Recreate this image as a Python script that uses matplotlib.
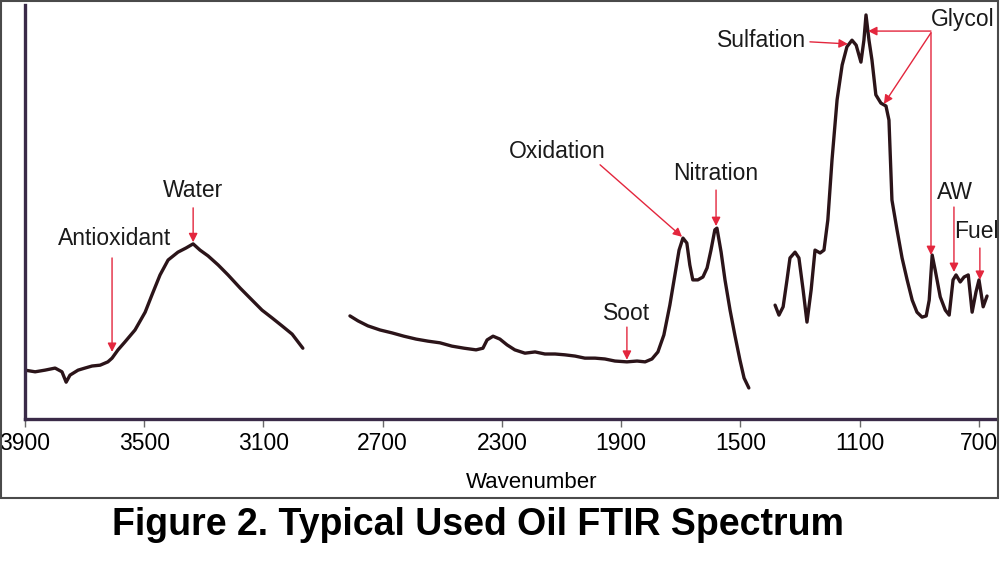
import matplotlib
matplotlib.use("Agg")
import matplotlib.pyplot as plt
from matplotlib.patches import Rectangle

# ---- data (wavenumber cm-1, absorbance) ----
wn_high = [3900, 3866, 3833, 3799, 3776, 3762, 3749, 3722, 3699, 3675, 3648, 3622, 3608,
           3588, 3565, 3531, 3497, 3474, 3447, 3420, 3387, 3360, 3336, 3313, 3286, 3252,
           3219, 3178, 3145, 3105, 3071, 3038, 3004, 2968]
abs_high = [0.118, 0.114, 0.118, 0.123, 0.114, 0.089, 0.106, 0.118, 0.123, 0.128, 0.130,
            0.138, 0.147, 0.167, 0.186, 0.215, 0.258, 0.300, 0.348, 0.384, 0.403, 0.413,
            0.423, 0.408, 0.394, 0.372, 0.348, 0.316, 0.292, 0.263, 0.244, 0.225, 0.205, 0.171]

wn_mid = [2810, 2783, 2750, 2709, 2669, 2629, 2588, 2548, 2508, 2468, 2427, 2387, 2364,
          2350, 2330, 2307, 2283, 2257, 2223, 2189, 2156, 2122, 2089, 2055, 2022, 1988,
          1955, 1921, 1881, 1847, 1820, 1797, 1777, 1757, 1737, 1720, 1706, 1693, 1680,
          1670, 1660, 1643, 1626, 1612, 1599, 1586, 1579, 1565, 1552, 1535, 1519, 1502,
          1488, 1472]
abs_mid = [0.249, 0.237, 0.225, 0.215, 0.208, 0.200, 0.193, 0.188, 0.184, 0.176, 0.171,
           0.167, 0.171, 0.191, 0.200, 0.193, 0.179, 0.167, 0.159, 0.162, 0.157, 0.157,
           0.155, 0.152, 0.147, 0.147, 0.145, 0.140, 0.138, 0.140, 0.138, 0.145, 0.162,
           0.203, 0.275, 0.348, 0.408, 0.437, 0.425, 0.372, 0.336, 0.336, 0.343, 0.365,
           0.408, 0.457, 0.461, 0.403, 0.336, 0.263, 0.203, 0.143, 0.099, 0.075]

wn_low = [1384, 1371, 1357, 1344, 1334, 1317, 1304, 1290, 1277, 1263, 1250, 1233, 1220,
          1207, 1193, 1176, 1159, 1143, 1126, 1112, 1096, 1086, 1079, 1069, 1059, 1046,
          1029, 1012, 1002, 992, 975, 958, 941, 924, 908, 891, 877, 867, 857, 847, 830,
          813, 800, 787, 777, 763, 750, 736, 723, 710, 700, 686, 673]
abs_low = [0.275, 0.251, 0.271, 0.336, 0.389, 0.403, 0.389, 0.312, 0.234, 0.312, 0.408,
           0.401, 0.408, 0.481, 0.626, 0.771, 0.855, 0.899, 0.915, 0.903, 0.862, 0.915,
           0.976, 0.915, 0.867, 0.783, 0.763, 0.756, 0.722, 0.529, 0.457, 0.389, 0.336,
           0.287, 0.258, 0.246, 0.249, 0.287, 0.396, 0.360, 0.295, 0.263, 0.251, 0.336,
           0.348, 0.331, 0.343, 0.348, 0.258, 0.307, 0.336, 0.271, 0.297]

tick_values = [3900, 3500, 3100, 2700, 2300, 1900, 1500, 1100, 700]
tick_labels = ["3900", "3500", "3100", "2700", "2300", "1900", "1500", "1100", "700"]

x_label = "Wavenumber"
title = "Figure 2. Typical Used Oil FTIR Spectrum"

# ---- style ----
font_main = ["Liberation Sans", "DejaVu Sans"]
red = "#e3263d"
curve_col = "#2b1419"
spine_col = "#3a2a48"

fig = plt.figure(figsize=(10, 5.76), dpi=100)
ax = fig.add_axes([0.025, 1 - 419 / 576, 0.970, 414 / 576])

for wn, ab in [(wn_high, abs_high), (wn_mid, abs_mid), (wn_low, abs_low)]:
    ax.plot(wn, ab, color=curve_col, lw=2.4, solid_joinstyle="round", solid_capstyle="round")

ax.set_xlim(3900, 646.3)
ax.set_ylim(0, 1)
ax.set_xticks(tick_values)
ax.set_xticklabels(tick_labels, fontfamily=font_main, fontsize=16.5)
ax.set_yticks([])
ax.tick_params(axis="x", direction="out", length=6, width=1, color="#6a6a6a", pad=3)
for s in ["top", "right"]:
    ax.spines[s].set_visible(False)
for s in ["left", "bottom"]:
    ax.spines[s].set_color(spine_col)
    ax.spines[s].set_linewidth(2.4)
ax.set_xlabel(x_label, fontfamily=font_main, fontsize=16)
ax.xaxis.set_label_coords(0.5227, -0.128)

ap = dict(arrowstyle="-|>", color=red, lw=1.0, mutation_scale=13, shrinkA=0, shrinkB=0)
tk = dict(fontfamily=font_main, fontsize=16.5, color="#1a1a1a", ha="center", va="center")

def note(text, tx, ty, ax_from=None, ax_to=None):
    ax.text(tx, ty, text, **tk)
    if ax_from is not None:
        ax.annotate("", xy=ax_to, xytext=ax_from, arrowprops=ap)

note("Antioxidant", 3598, 0.437, (3608, 0.389), (3608, 0.162))
note("Water", 3336, 0.551, (3336, 0.510), (3336, 0.427))
note("Oxidation", 2116, 0.647, (1971, 0.614), (1696, 0.440))
note("Nitration", 1582, 0.594, (1582, 0.553), (1582, 0.466))
note("Soot", 1881, 0.256, (1881, 0.222), (1881, 0.143))
note("Sulfation", 1428, 0.915, (1267, 0.911), (1140, 0.906))
note("Glycol", 754, 0.964, (861, 0.937), (1072, 0.937))
ax.annotate("", xy=(1019, 0.761), xytext=(861, 0.933), arrowprops=ap)
ax.annotate("", xy=(861, 0.396), xytext=(861, 0.933), arrowprops=ap)
note("AW", 781, 0.546, (784, 0.512), (784, 0.355))
note("Fuel", 708, 0.454, (697, 0.413), (697, 0.336))

fig.text(0.478, 1 - 525 / 576, title, fontfamily=font_main,
         fontweight="bold", fontsize=27, ha="center", va="center", color="black")

fig.patches.append(Rectangle((0.0008, 1 - 498 / 576), 0.997, 497 / 576,
                             transform=fig.transFigure, fill=False,
                             edgecolor="#4a4a4a", lw=1.5))

fig.savefig("out.png", dpi=100, facecolor="white")
